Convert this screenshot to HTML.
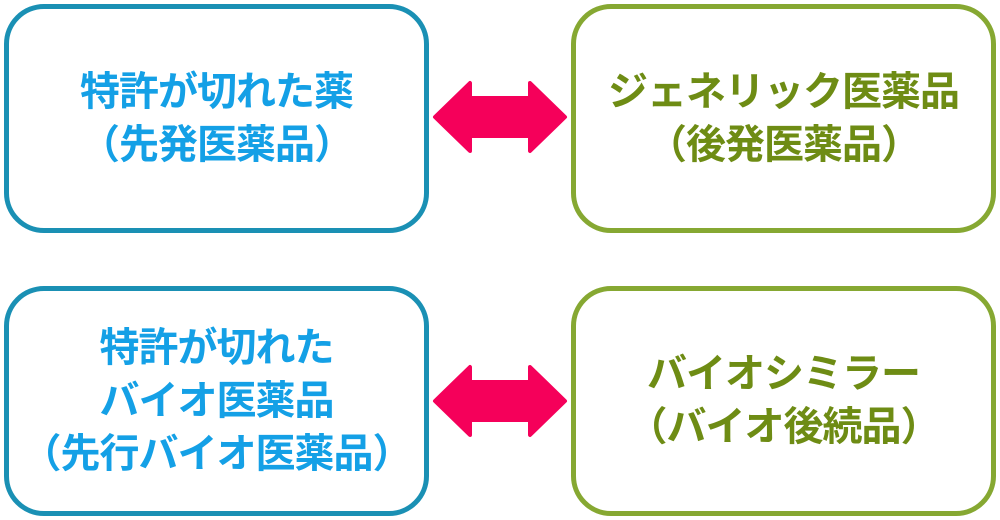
<!DOCTYPE html>
<html><head><meta charset="utf-8"><style>
html,body{margin:0;padding:0;background:#fff;width:1000px;height:520px;overflow:hidden;position:relative}
.b{position:absolute;box-sizing:border-box;border:5px solid;border-radius:40px;display:flex;align-items:center;justify-content:center;text-align:center;font-family:"Liberation Sans","Noto Sans CJK JP",sans-serif;font-weight:bold;font-size:40px;line-height:53px;letter-spacing:-1px}
.bl{border-color:#1a90b4;color:#14a0e6}
.gr{border-color:#86a832;color:#6e8c14}
svg{position:absolute;left:0;top:0}
</style></head><body>
<div class="b bl" style="left:4px;top:4px;width:425px;height:229px"><div>特許が切れた薬<br>（先発医薬品）</div></div>
<div class="b gr" style="left:571px;top:4px;width:425px;height:229px"><div>ジェネリック医薬品<br>（後発医薬品）</div></div>
<div class="b bl" style="left:4px;top:286px;width:425px;height:230px"><div>特許が切れた<br>バイオ医薬品<br>（先行バイオ医薬品）</div></div>
<div class="b gr" style="left:571px;top:286px;width:425px;height:230px"><div>バイオシミラー<br>（バイオ後続品）</div></div>
<svg width="1000" height="520">
<g fill="#f5005a" stroke="#f5005a" stroke-width="4" stroke-linejoin="round">
<polygon points="435,117 470,83 470,98 530,98 530,83 565,117 530,151 530,136 470,136 470,151"/>
<polygon points="435,401 470,367 470,382 530,382 530,367 565,401 530,435 530,420 470,420 470,435"/>
</g></svg>
</body></html>
